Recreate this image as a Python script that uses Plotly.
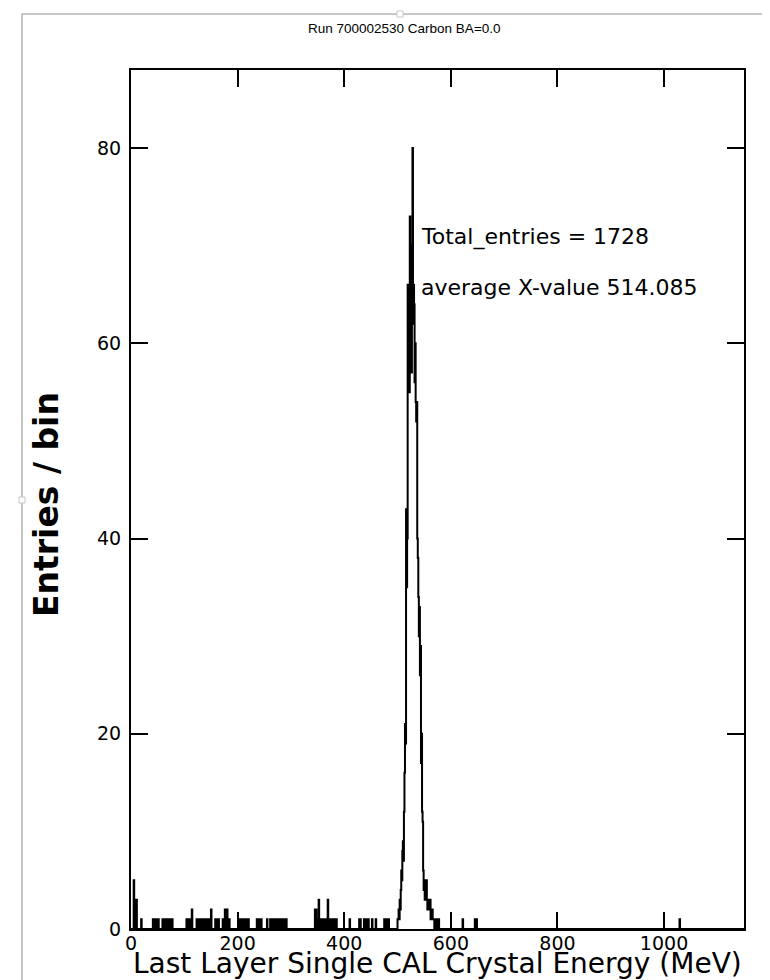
import numpy as np
import plotly.graph_objects as go

# ---------------- data ----------------
title_text = "Run 700002530 Carbon BA=0.0"
x_label = "Last Layer Single CAL Crystal Energy (MeV)"
y_label = "Entries / bin"
stat_lines = ["Total_entries = 1728", "average X-value 514.085"]

x_ticks = [0, 200, 400, 600, 800, 1000]
y_ticks = [0, 20, 40, 60, 80]

bin_width = 1.0          # MeV
x_max = 1150
y_max = 88

# sparse background entries: bin lower edge (MeV) and counts
bg_mev = [5, 8, 10, 19,
          41, 43, 45, 47, 49, 51, 59, 61, 63, 67, 69, 71, 73, 75, 77,
          104, 106, 108, 110, 112, 114,
          123, 125, 127, 129, 131, 133, 135, 137, 139, 141, 143, 145, 147, 150,
          158, 160, 162, 164, 172, 174, 176, 178, 180, 182, 184,
          202, 204, 206, 208, 210, 212, 214, 216, 218, 220,
          236, 238, 240, 242, 244, 255,
          261, 263, 265, 267, 269, 271, 273, 275, 277, 279, 281, 283, 285, 287, 289, 291,
          345, 347, 349, 352, 354, 356, 358, 360, 362, 364, 366, 369,
          371, 373, 375, 377, 379, 381, 383, 385,
          410, 428, 430, 437, 441, 445, 452, 459,
          475, 477, 479, 481, 483,
          622, 645, 648, 1029]
bg_counts = [5, 3, 3, 1,
             1, 1, 1, 1, 1, 1, 1, 1, 1, 1, 1, 1, 1, 1, 1,
             1, 1, 1, 1, 1, 2,
             1, 1, 1, 1, 1, 1, 1, 1, 1, 1, 1, 1, 1, 2,
             1, 1, 1, 1, 1, 1, 2, 2, 2, 1, 1,
             1, 1, 1, 1, 1, 1, 1, 1, 1, 1,
             1, 1, 1, 1, 1, 1,
             1, 1, 1, 1, 1, 1, 1, 1, 1, 1, 1, 1, 1, 1, 1, 1,
             2, 2, 1, 3, 1, 1, 1, 1, 1, 1, 1, 3,
             1, 1, 1, 1, 1, 1, 1, 1,
             1, 1, 1, 1, 1, 1, 1, 1,
             1, 1, 1, 1, 1,
             1, 1, 1, 1]

# peak region, 1 MeV bins starting at 500 MeV
peak_start = 500
peak_counts = [1, 1, 2, 1, 3, 2, 4, 6, 5, 8,
               9, 7, 12, 16, 21, 19, 43, 35, 40, 66,
               58, 62, 55, 73, 60, 68, 57, 70, 80, 62,
               66, 64, 56, 60, 54, 52, 54, 40, 38, 34,
               30, 33, 26, 29, 17, 20, 12, 11, 6, 4,
               5, 3, 4, 3, 5, 3, 2, 3, 2, 3,
               2, 3, 1, 2, 1, 2, 1, 1, 1, 0,
               1, 1, 1, 0, 1, 1, 0, 1]

# ---------------- build histogram ----------------
n_bins = int(x_max / bin_width)
counts = np.zeros(n_bins)
for e, c in zip(bg_mev, bg_counts):
    counts[int(e / bin_width)] += c
for i, c in enumerate(peak_counts):
    counts[peak_start + i] += c
edges = np.arange(n_bins + 1) * bin_width
yvals = np.append(counts, counts[-1])

# ---------------- layout geometry ----------------
W, H = 770, 980
ML, MR, MT, MB = 123, 34, 62, 59
PW, PH = W - ML - MR, H - MT - MB


def px(xp):
    return (xp - ML) / PW


def py(yp):
    return (H - MB - yp) / PH


FONT = "DejaVu Sans"

fig = go.Figure()
fig.add_trace(go.Scatter(
    x=edges, y=yvals, mode="lines", line=dict(shape="hv", color="black", width=2),
    hoverinfo="skip", showlegend=False))

axis_common = dict(showline=True, linecolor="black", linewidth=2, mirror="ticks",
                   ticks="inside", ticklen=17, tickwidth=1.5, tickcolor="black",
                   showgrid=False, zeroline=False)

fig.update_layout(
    width=W, height=H,
    margin=dict(l=ML, r=MR, t=MT, b=MB, pad=0),
    paper_bgcolor="white", plot_bgcolor="white",
    xaxis=dict(range=[0, x_max], tickvals=x_ticks, ticktext=[str(v) for v in x_ticks],
               tickfont=dict(family=FONT, size=19, color="black"), ticklabelstandoff=-4,
               **axis_common),
    yaxis=dict(range=[0, y_max], tickvals=y_ticks, ticktext=[str(v) for v in y_ticks],
               tickfont=dict(family=FONT, size=19, color="black"), ticklabelstandoff=4,
               **axis_common),
    showlegend=False,
)

annotations = [
    dict(text=title_text, xref="paper", yref="paper", x=px(396), y=py(20),
         xanchor="center", yanchor="middle", showarrow=False,
         font=dict(family="Liberation Sans", size=13.5, color="black")),
    dict(text=x_label, xref="paper", yref="paper", x=px(430), y=py(956),
         xanchor="center", yanchor="middle", showarrow=False, borderpad=0,
         font=dict(family=FONT, size=28, color="black")),
    dict(text="<b>" + y_label + "</b>", xref="paper", yref="paper", x=px(38), y=py(497),
         xanchor="center", yanchor="middle", textangle=-90, showarrow=False,
         font=dict(family=FONT, size=33, color="black")),
]
for i, s in enumerate(stat_lines):
    annotations.append(dict(text=s, xref="paper", yref="paper", x=px(411), y=py(229 + 50 * i),
                            xanchor="left", yanchor="middle", showarrow=False,
                            font=dict(family=FONT, size=22, color="black")))
fig.update_layout(annotations=annotations)

# outer gray frame with small selection handles
shapes = [dict(type="rect", xref="paper", yref="paper", x0=px(14), x1=px(766), y0=py(992), y1=py(6),
               line=dict(color="#b4b4b4", width=1.5), fillcolor="rgba(0,0,0,0)", layer="below")]
for (hx, hy) in [(14, 492), (392, 6), (766, 492)]:
    shapes.append(dict(type="rect", xref="paper", yref="paper", x0=px(hx - 3), x1=px(hx + 3),
                       y0=py(hy + 3), y1=py(hy - 3), line=dict(color="#c8c8c8", width=1),
                       fillcolor="white"))
fig.update_layout(shapes=shapes)

fig.write_html("out.html")
